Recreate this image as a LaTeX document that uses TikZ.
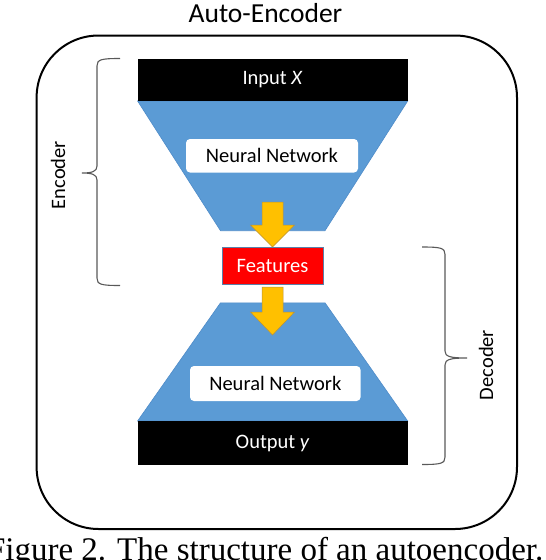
\documentclass[tikz,border=0pt]{standalone}
\usepackage{fontspec}
\setmainfont{Carlito}
\newfontfamily\capfont{Liberation Serif}
\definecolor{aeblue}{HTML}{5B9BD5}
\definecolor{aeblueline}{HTML}{4F8CC9}
\definecolor{aeorange}{HTML}{FFC000}
\definecolor{aeorangeline}{HTML}{B8923A}
\definecolor{aered}{HTML}{FF0000}
\definecolor{aeredline}{HTML}{5A7FA8}
\definecolor{braceline}{HTML}{595959}
\begin{document}
\begin{tikzpicture}[x=1pt,y=-1pt,
  lbl/.style={font=\fontsize{20.5}{24}\selectfont, inner sep=0pt},
  blackbox/.style={lbl, fill=black, text=white, minimum width=270.1pt},
  nnbox/.style={lbl, fill=white, rounded corners=4pt},
  featbox/.style={lbl, fill=aered, draw=aeredline, line width=0.6pt, text=white},
  trap/.style={fill=aeblue, draw=aeblueline, line width=0.6pt},
  blockarrow/.style={fill=aeorange, draw=aeorangeline, line width=0.5pt, line join=miter},
  bracepath/.style={draw=braceline, line width=1.1pt},
  frame/.style={draw=black, line width=2pt, rounded corners=62pt}]
\useasboundingbox (0,0) rectangle (546,560);
% outer frame
\draw[frame] (36.6,35.5) rectangle (517,529);
% title
\node[font=\fontsize{27.5}{30}\selectfont, anchor=base, inner sep=0pt] (title) at (265.5,22.5) {Auto-Encoder};
% trapezoids
\path[trap] (137.6,101) -- (407.7,101) -- (325,230.7) -- (220.5,230.7) -- cycle;
\path[trap] (220.5,302.8) -- (325,302.8) -- (407.7,421) -- (137.6,421) -- cycle;
% block arrows
\path[blockarrow] (262,202) -- (283,202) -- (283,225) -- (294.5,225) -- (272.5,247) -- (250.5,225) -- (262,225) -- cycle;
\path[blockarrow] (262,287) -- (283,287) -- (283,312) -- (294.5,312) -- (272.5,335) -- (250.5,312) -- (262,312) -- cycle;
% boxes
\node[blackbox, minimum height=42pt] (in) at (272.65,80) {Input \textit{X}};
\node[blackbox, minimum height=44pt] (out) at (272.65,443) {Output \textit{y}};
\node[nnbox, minimum width=172pt, minimum height=33.5pt] (nn1) at (272,155.75) {Neural Network};
\node[nnbox, minimum width=170.6pt, minimum height=35pt] (nn2) at (275.3,383.5) {Neural Network};
\node[featbox, minimum width=101pt, minimum height=37pt] (feat) at (272.5,266) {Features};
% braces
\draw[bracepath] (120,58.5) .. controls (101,58.5) and (97,59.5) .. (97,66) -- (97,166)
  .. controls (97,171.5) and (92,173) .. (82,173)
  .. controls (92,173) and (97,174.5) .. (97,180) -- (97,278)
  .. controls (97,284.5) and (101,285.5) .. (120,285.5);
\draw[bracepath] (422,247) .. controls (441,247) and (445,248) .. (445,254.5) -- (445,351)
  .. controls (445,356.5) and (450,358) .. (467,358)
  .. controls (450,358) and (445,359.5) .. (445,365) -- (445,457)
  .. controls (445,463.5) and (441,464.5) .. (422,464.5);
\node[lbl, rotate=90] (enc) at (58,175) {Encoder};
\node[lbl, rotate=90] (dec) at (486,365) {Decoder};
% caption
\node[font=\capfont\fontsize{33}{36}\selectfont, anchor=base east, inner sep=0pt] (cap) at (543.5,560.5) {Figure 2. The structure of an autoencoder.};
\end{tikzpicture}
\end{document}
